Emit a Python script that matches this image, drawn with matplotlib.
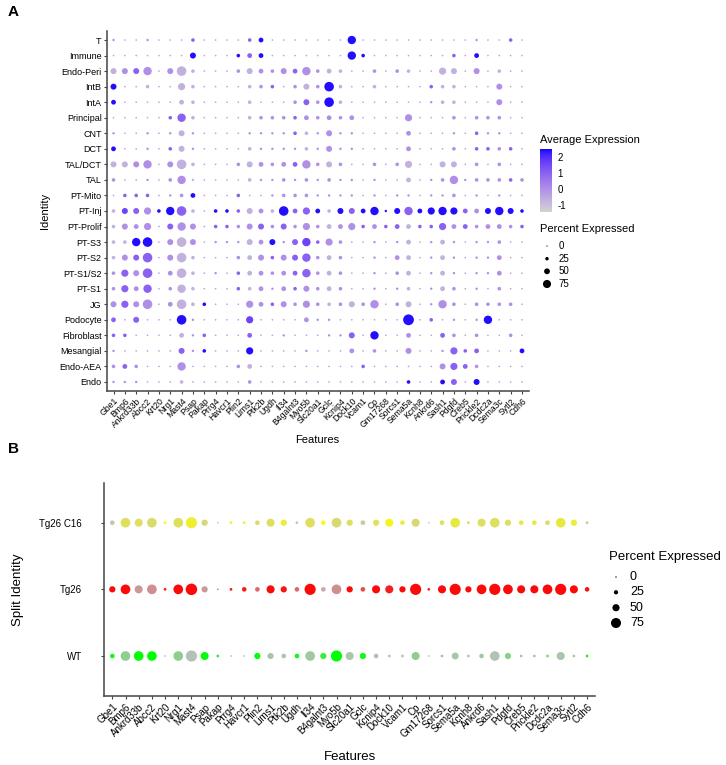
import numpy as np
import matplotlib
matplotlib.use("Agg")
import matplotlib.pyplot as plt
from matplotlib.colors import ListedColormap, to_rgb

plt.rcParams['font.family'] = ['Liberation Sans', 'DejaVu Sans']
plt.rcParams['axes.unicode_minus'] = False

genes = ["Gbe1", "Bmp6", "Ankrd33b", "Abcc2", "Krt20", "Nrg1", "Mast4", "Psap", "Pakap",
         "Prrg4", "Havcr1", "Plin2", "Lims1", "Ptk2b", "Ugdh", "Il34", "B4galnt3", "Myo5b",
         "Slc20a1", "Gclc", "Kcnip4", "Dock10", "Vcam1", "Cp", "Gm17268", "Sorcs1", "Sema5a",
         "Kcnh8", "Ankrd6", "Sash1", "Pdgfd", "Creb5", "Prickle2", "Dcdc2a", "Sema3c",
         "Sytl2", "Cdh6"]

# panel A, top to bottom
identities = ["T", "Immune", "Endo-Peri", "IntB", "IntA", "Principal", "CNT", "DCT",
              "TAL/DCT", "TAL", "PT-Mito", "PT-Inj", "PT-Prolif", "PT-S3", "PT-S2",
              "PT-S1/S2", "PT-S1", "JG", "Podocyte", "Fibroblast", "Mesangial",
              "Endo-AEA", "Endo"]

# percent expressed, one digit per gene (about digit*13 %)
pct_a = [
    "1001000200 0023000000 0600000000 0010020",
    "0000000400 0233000000 0620000000 2030000",
    "4446047200 0243243623 2002022005 4040200",
    "4002005200 0022202427 2002000022 2000400",
    "3000003200 0020002427 2000000012 2000400",
    "0000026200 0022222323 2300005000 2022200",
    "1001014100 0011112214 1100003000 1021100",
    "3001024100 0021111214 1100003000 2022220",
    "4446047200 0243233624 2002025004 4020200",
    "2001026100 0021121212 1101003012 6122222",
    "0222012300 0200122211 1101011011 2010100",
    "2445267202 2243273532 4436146356 5334642",
    "2435046402 2244242523 3523233225 3323322",
    "2267047401 1143414625 2001013013 1011200",
    "2447047200 0234244623 2001033013 1011300",
    "2547037201 0233233623 2001023013 1011300",
    "2536026200 0223132423 2001012013 2010200",
    "4547037220 0053242522 2426024016 2022220",
    "3040007100 0050000311 0000008020 1016000",
    "2200003120 0030010001 1406003003 2020020",
    "1000004120 0050000100 0302004001 5230003",
    "2320006000 0230000000 0020000004 5320000",
    "1110002000 0020000000 0000002003 4040000",
]
# average expression, one letter per gene
expr_a = [
    "m..m...p.. ..pb...... .b........ ..m..p.",
    ".......b.. .bpb...... .bb....... p.b....",
    "lmpm.mll.. .mlmmmpmml l..m.ml..l l.m.l..",
    "b..l..ll.. ..lmp.mlmb l..l....pl l...m..",
    "b.....ll.. ..l...mpmb l.......ml l...m..",
    ".....ppl.. ..lmmmpmmm mm....m... m.mmm..",
    "m..m.mlm.. ..mmmmplmm mm....m... m.pmm..",
    "b..m.plm.. ..lmmmmlmm mm....m... m.ppmp.",
    "llmm.mll.. .mlmmmpmml m..m.ml..l l.m.m..",
    "m..m.mml.. ..lmmmmmmm mm.m..l.mm mmmmmpm",
    ".ppp.mmb.. .p..mmmmmm mm.m.mm.mm m.m.m..",
    "lqpmbbpl.b bplmlbppbl bpbbbbpbbb bpmbbbb",
    "lmmm.pmm.p pmmpmpmmml mmpmpplppp mpmmmmp",
    "llbb.mlm.m mmlmbmpqpm m..m.ml.ml m.mmm..",
    "lmpp.mll.. .mlmpmppml m..m.ml.ml m.mmm..",
    "mpmp.mll.m .plmmmppml m..m.ml.ml m.mmm..",
    "mpmp.mll.. .plmmmpmml m..m.ml.ml m.m.m..",
    "mpmm.mllb. ..mmpmmmml mlmm.ml.mm m.mmmm.",
    "p.p...bm.. ..q....mmm ......b.p. m.mb...",
    "pp....lmp. ..p..m...m mp.b..m..p m.m..m.",
    "m.....pmb. ..b....m.. .m.m..m..m ppp...b",
    "mpm...m... .ml....... ..p......m ppm....",
    "mmm...l... ..m....... ......b..b p.b....",
]
expr_levels = {'.': -0.4, 'l': -0.7, 'm': 0.0, 'p': 1.0, 'q': 1.6, 'b': 2.4}

# panel B, top to bottom
splits = ["Tg26 C16", "Tg26", "WT"]
split_cols = ["#ffff00", "#ff0000", "#00ff00"]
c16_pct = [28, 72, 58, 72, 12, 72, 85, 42, 3, 12, 12, 28, 58, 42, 12, 72, 28, 72, 42, 28,
           42, 58, 28, 58, 3, 28, 72, 12, 58, 72, 42, 28, 28, 28, 72, 42, 12]
tg26_pct = [42, 72, 58, 72, 12, 72, 88, 42, 3, 12, 28, 28, 58, 42, 28, 85, 28, 72, 42, 28,
            58, 58, 42, 85, 12, 58, 85, 42, 72, 85, 72, 58, 58, 72, 85, 58, 28]
wt_pct = [28, 72, 72, 72, 3, 72, 85, 58, 12, 3, 3, 42, 42, 28, 28, 72, 42, 85, 58, 42,
          28, 12, 12, 58, 3, 12, 48, 12, 28, 72, 42, 12, 12, 12, 58, 12, 12]
# share of split colour mixed into grey (0 = grey, 1 = full colour)
c16_expr = [0.1, 0.5, 0.5, 0.45, 0.9, 0.5, 0.75, 0.4, 0.3, 0.8, 0.8, 0.45, 0.5, 0.7, 0.15,
            0.5, 0.9, 0.4, 0.5, 0.15, 0.55, 0.85, 0.7, 0.4, 0.3, 0.5, 0.65, 0.45, 0.5, 0.5,
            0.5, 0.65, 0.65, 0.45, 0.65, 0.7, 0.15]
tg26_expr = [0.95, 0.95, 0.2, 0.25, 0.85, 0.95, 0.95, 0.2, 0.3, 0.85, 0.85, 0.45, 0.95, 0.9,
             0.45, 0.95, 0.1, 0.25, 0.95, 0.6, 0.95, 0.85, 0.95, 0.95, 0.8, 0.95, 0.95, 0.95,
             0.95, 0.95, 0.95, 0.95, 0.95, 0.95, 0.95, 0.95, 0.9]
wt_expr = [0.9, 0.25, 1.0, 1.0, 0.1, 0.25, 0.05, 0.95, 0.8, 0.1, 0.1, 0.95, 0.1, 0.1, 0.9,
           0.15, 0.7, 1.0, 0.1, 0.9, 0.1, 0.1, 0.1, 0.25, 0.1, 0.15, 0.1, 0.1, 0.15, 0.05,
           0.3, 0.1, 0.1, 0.3, 0.1, 0.1, 0.85]

legend_pcts = [0, 25, 50, 75]
cbar_ticks = [-1, 0, 1, 2]
vmin, vmax = -1.45, 2.5

W, H = 726, 765
DPI = 100


# ggplot interpolates lightgrey -> blue in Lab space, which gives the purple middle
XYZ_M = np.array([[0.4124, 0.3576, 0.1805], [0.2126, 0.7152, 0.0722], [0.0193, 0.1192, 0.9505]])
WHITE = np.array([0.95047, 1.0, 1.08883])


def to_lab(rgb):
    c = np.array(rgb, float)
    c = np.where(c <= 0.04045, c / 12.92, ((c + 0.055) / 1.055) ** 2.4)
    xyz = XYZ_M @ c / WHITE
    d = 6 / 29
    f = np.where(xyz > d ** 3, np.cbrt(xyz), xyz / (3 * d * d) + 4 / 29)
    return np.array([116 * f[1] - 16, 500 * (f[0] - f[1]), 200 * (f[1] - f[2])])


def from_lab(lab):
    L, a, b = lab
    fy = (L + 16) / 116
    f = np.array([fy + a / 500, fy, fy - b / 200])
    d = 6 / 29
    xyz = np.where(f > d, f ** 3, 3 * d * d * (f - 4 / 29)) * WHITE
    c = np.clip(np.linalg.inv(XYZ_M) @ xyz, 0, 1)
    return np.clip(np.where(c <= 0.0031308, 12.92 * c, 1.055 * c ** (1 / 2.4) - 0.055), 0, 1)


lo, hi = to_lab(to_rgb("lightgrey")), to_lab(to_rgb("blue"))
cmap = ListedColormap([from_lab(lo + t * (hi - lo)) for t in np.linspace(0, 1, 256)])


def size_a(p):
    d = 1.2 + 0.092 * np.asarray(p, float)
    return (d * 72 / DPI) ** 2


def size_b(p):
    d = 1.4 + 0.115 * np.asarray(p, float)
    return (d * 72 / DPI) ** 2


def px_axes(l, t, r, b):
    return [l / W, 1 - b / H, (r - l) / W, (b - t) / H]


def style_axes(ax):
    for s in ["top", "right"]:
        ax.spines[s].set_visible(False)
    for s in ["left", "bottom"]:
        ax.spines[s].set_color("#444444")
        ax.spines[s].set_linewidth(1.1)
    ax.tick_params(length=2.2, width=0.8, color="#444444")


fig = plt.figure(figsize=(W / DPI, H / DPI), dpi=DPI)
ov = fig.add_axes([0, 0, 1, 1])
ov.set_xlim(0, W)
ov.set_ylim(H, 0)
ov.axis("off")

# ---------------- panel A
ax = fig.add_axes(px_axes(106.7, 30.7, 528.8, 391.3))
x = np.arange(len(genes))
sc = None
for i, (ps, es) in enumerate(zip(pct_a, expr_a)):
    ps = ps.replace(" ", "")
    es = es.replace(" ", "")
    pct = np.array([max(5, 13 * int(ch)) for ch in ps])
    ex = np.array([expr_levels[ch] for ch in es])
    sc = ax.scatter(x, np.full(len(x), i), s=size_a(pct), c=ex, cmap=cmap,
                    vmin=vmin, vmax=vmax, linewidths=0)
ax.set_xlim(-0.6, len(genes) - 0.4)
ax.set_ylim(len(identities) - 0.4, -0.6)
ax.set_xticks(x)
ax.set_xticklabels(genes, rotation=45, ha="right", va="top", rotation_mode="anchor", fontsize=6.2)
ax.set_yticks(np.arange(len(identities)))
ax.set_yticklabels(identities, fontsize=6.5)
style_axes(ax)
ax.tick_params(axis="both", pad=1.5)
ax.set_xlabel("Features", fontsize=8, va="center")
ax.xaxis.set_label_coords(0.498, -0.135)
ax.set_ylabel("Identity", fontsize=8, va="center")
ax.yaxis.set_label_coords(-0.1465, 0.5)

cax = fig.add_axes(px_axes(540, 149, 552, 212))
cb = fig.colorbar(sc, cax=cax)
cb.outline.set_visible(False)
cb.set_ticks(cbar_ticks)
cax.tick_params(length=0, labelsize=7, pad=4)
ov.text(540, 140, "Average Expression", fontsize=8, va="center", ha="left")

ov.text(540, 229, "Percent Expressed", fontsize=8, va="center", ha="left")
leg_y_a = [246, 258.7, 271.3, 284]
ov.scatter([547] * 4, leg_y_a, s=size_a(legend_pcts), c="black", linewidths=0)
for yy, p in zip(leg_y_a, legend_pcts):
    ov.text(558.5, yy, str(p), fontsize=7, va="center", ha="left")

# ---------------- panel B
bx = fig.add_axes(px_axes(104.4, 482.7, 595, 696))
for i, (pct, ex, col) in enumerate(zip([c16_pct, tg26_pct, wt_pct],
                                       [c16_expr, tg26_expr, wt_expr], split_cols)):
    g = np.array(to_rgb("#bebebe"))
    c = np.array(to_rgb(col))
    cols = [g + t * (c - g) for t in ex]
    bx.scatter(x, np.full(len(x), i), s=size_b(pct), c=cols, linewidths=0)
bx.set_xlim(-0.6, len(genes) - 0.4)
bx.set_ylim(len(splits) - 0.4, -0.6)
bx.set_xticks(x)
bx.set_xticklabels(genes, rotation=45, ha="right", va="top", rotation_mode="anchor", fontsize=7)
bx.set_yticks(np.arange(len(splits)))
bx.set_yticklabels(splits, fontsize=7)
style_axes(bx)
bx.tick_params(axis="x", pad=2)
bx.tick_params(axis="y", pad=14)
bx.set_xlabel("Features", fontsize=9.5, va="center")
bx.xaxis.set_label_coords(0.5, -0.2846)
bx.set_ylabel("Split Identity", fontsize=9.5, va="center")
bx.yaxis.set_label_coords(-0.176, 0.5)

ov.text(609, 556.7, "Percent Expressed", fontsize=9.5, va="center", ha="left")
leg_y_b = [577, 592.3, 607.7, 623]
ov.scatter([616] * 4, leg_y_b, s=size_b(legend_pcts), c="black", linewidths=0)
for yy, p in zip(leg_y_b, legend_pcts):
    ov.text(630, yy, str(p), fontsize=9, va="center", ha="left")

ov.text(8, 12, "A", fontsize=11, fontweight="bold", va="center", ha="left")
ov.text(8, 449, "B", fontsize=11, fontweight="bold", va="center", ha="left")

fig.savefig("out.png", dpi=DPI)
